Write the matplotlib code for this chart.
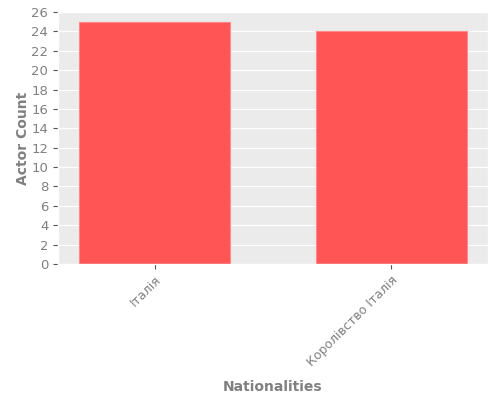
import matplotlib
matplotlib.use("Agg")
import matplotlib.pyplot as plt

nationalities = ["Італія", "Королівство Італія"]
actor_counts = [25, 24]

plt.style.use("ggplot")
fig = plt.figure(figsize=(5, 4), dpi=100)
ax = fig.add_axes([0.116, 0.34, 0.86, 0.63])
ax.set_facecolor("#ebebeb")
ax.bar(range(len(nationalities)), actor_counts, width=0.64, color="#ff5555",
       edgecolor="#ff8888", linewidth=0.8)
ax.set_xticks(range(len(nationalities)))
ax.set_xticklabels(nationalities, rotation=45, ha="right", rotation_mode="anchor",
                   color="#808080", fontsize=9)
ax.set_xlim(-0.41, 1.41)
ax.set_ylim(0, 26)
ax.set_yticks(range(0, 27, 2))
ax.tick_params(axis="y", labelcolor="#808080", labelsize=9.5)
ax.grid(axis="x", visible=False)
ax.set_xlabel("Nationalities", fontsize=10, fontweight="bold", color="#808080", labelpad=8)
ax.set_ylabel("Actor Count", fontsize=10, fontweight="bold", color="#808080", labelpad=1)
fig.savefig("out.png", dpi=100)
